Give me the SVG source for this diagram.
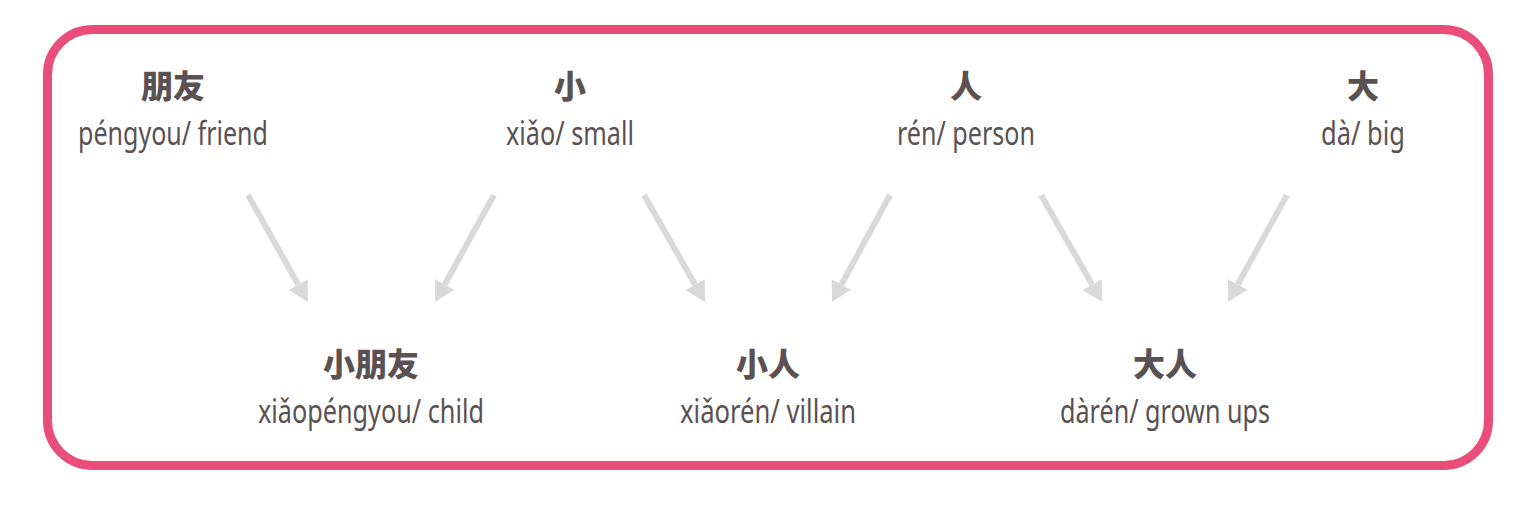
<svg xmlns="http://www.w3.org/2000/svg" width="1536" height="517" viewBox="0 0 1536 517">
<style>
.zh{font-family:"Noto Sans CJK SC","Noto Sans",sans-serif;font-weight:900;font-size:32px;fill:#5a5152;text-anchor:middle}
.py{font-family:"Noto Sans","Open Sans",sans-serif;font-size:32px;fill:#5a5152;text-anchor:middle}
.arr{stroke:#d9d9d9;stroke-width:6;fill:none;marker-end:url(#ah)}
</style>
<defs>
<marker id="ah" markerUnits="userSpaceOnUse" markerWidth="20" markerHeight="22" viewBox="0 0 20 22" refX="0" refY="11" orient="auto">
<path d="M0,0 L20,11 L0,22 z" fill="#d9d9d9"/>
</marker>
</defs>
<rect width="1536" height="517" fill="#ffffff"/>
<rect x="47.5" y="29.5" width="1441" height="436" rx="45" ry="45" fill="none" stroke="#e94e7b" stroke-width="9"/>
<g id="connectors">
<line class="arr" x1="248" y1="195" x2="298.2" y2="284.6"/>
<line class="arr" x1="494" y1="195" x2="444.7" y2="284.5"/>
<line class="arr" x1="644" y1="195" x2="695.1" y2="284.6"/>
<line class="arr" x1="890" y1="195" x2="841.5" y2="284.4"/>
<line class="arr" x1="1041" y1="195" x2="1092.1" y2="284.6"/>
<line class="arr" x1="1287" y1="195" x2="1237.7" y2="284.5"/>
</g>
<g id="pengyou">
<text class="zh" x="173" y="98">朋友</text>
<text class="py" x="173" y="145" textLength="190" lengthAdjust="spacingAndGlyphs">péngyou/ friend</text>
</g>
<g id="xiao">
<text class="zh" x="570" y="98">小</text>
<text class="py" x="570" y="145" textLength="128" lengthAdjust="spacingAndGlyphs">xiǎo/ small</text>
</g>
<g id="ren">
<text class="zh" x="966" y="98">人</text>
<text class="py" x="966" y="145" textLength="138" lengthAdjust="spacingAndGlyphs">rén/ person</text>
</g>
<g id="da">
<text class="zh" x="1363" y="98">大</text>
<text class="py" x="1363" y="145" textLength="84" lengthAdjust="spacingAndGlyphs">dà/ big</text>
</g>
<g id="xiaopengyou">
<text class="zh" x="371" y="376">小朋友</text>
<text class="py" x="371" y="423" textLength="226" lengthAdjust="spacingAndGlyphs">xiǎopéngyou/ child</text>
</g>
<g id="xiaoren">
<text class="zh" x="768" y="376">小人</text>
<text class="py" x="768" y="423" textLength="176" lengthAdjust="spacingAndGlyphs">xiǎorén/ villain</text>
</g>
<g id="daren">
<text class="zh" x="1165" y="376">大人</text>
<text class="py" x="1165" y="423" textLength="210" lengthAdjust="spacingAndGlyphs">dàrén/ grown ups</text>
</g>
</svg>
